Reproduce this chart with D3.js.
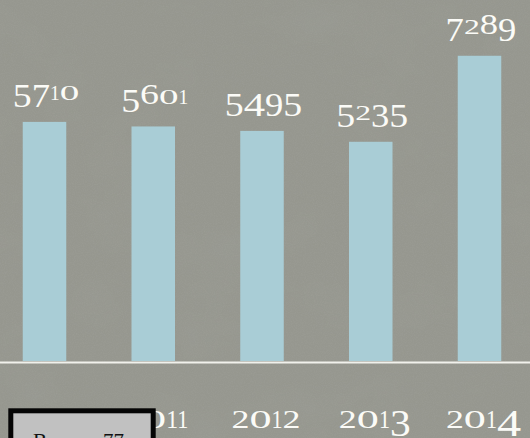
<!DOCTYPE html>
<html>
<head>
<meta charset="utf-8">
<script src="https://cdn.jsdelivr.net/npm/d3@7"></script>
<style>
  html, body { margin: 0; padding: 0; background: #94958d; overflow: hidden; }
  svg { display: block; }
  .num { font-family: "Liberation Serif", "Times New Roman", serif; fill: #fbfbf7; }
</style>
</head>
<body>
<script>
// Yearly totals
const years = ["2010", "2011", "2012", "2013", "2014"];
const counts = [5710, 5601, 5495, 5235, 7289];
// Caption of the info box at the lower left
const boxLabel = "Bar";
const boxValue = "77";

const W = 530, H = 438;

const svg = d3.select("body").append("svg")
  .attr("width", W).attr("height", H);

// Stone-like backdrop: flat grey plus soft mottling and fine grain
const defs = svg.append("defs");
const mottle = defs.append("filter").attr("id", "mottle")
  .attr("x", 0).attr("y", 0).attr("width", "100%").attr("height", "100%");
mottle.append("feTurbulence").attr("type", "fractalNoise")
  .attr("baseFrequency", "0.012 0.018").attr("numOctaves", 4).attr("seed", 7);
mottle.append("feColorMatrix").attr("type", "matrix")
  .attr("values", "0 0 0 0 0.33  0 0 0 0 0.34  0 0 0 0 0.31  0 0 0 -1.3 0.72");
const grain = defs.append("filter").attr("id", "grain")
  .attr("x", 0).attr("y", 0).attr("width", "100%").attr("height", "100%");
grain.append("feTurbulence").attr("type", "fractalNoise")
  .attr("baseFrequency", "0.9").attr("numOctaves", 2).attr("seed", 3);
grain.append("feColorMatrix").attr("type", "matrix")
  .attr("values", "0 0 0 0 0.5  0 0 0 0 0.5  0 0 0 0 0.48  0 0 0 -0.6 0.38");

svg.append("rect").attr("width", W).attr("height", H).attr("fill", "#96978f");
svg.append("rect").attr("width", W).attr("height", H).attr("filter", "url(#mottle)").attr("opacity", 0.55);
svg.append("rect").attr("width", W).attr("height", H).attr("filter", "url(#grain)").attr("opacity", 0.35);

const x = d3.scaleBand().domain(years).range([1, 523])
  .paddingInner(0.6).paddingOuter(0.2);
const y = d3.scaleLinear().domain([0, 8000]).range([361, 26]);

// Old-style figures: 0 1 2 sit at x-height, 6 8 rise a little,
// the others hang below the baseline. Advance widths in em of the label size.
const figureWidth = { "0": 0.64, "1": 0.32, "2": 0.52, "3": 0.6, "4": 0.7,
                      "5": 0.62, "6": 0.62, "7": 0.6, "8": 0.6, "9": 0.6 };
function oldstyle(text, str, S) {
  let prev = 0;
  for (const ch of str) {
    let size, shift;
    if ("012".includes(ch)) { size = S * 0.7; shift = 0; }
    else if ("68".includes(ch)) { size = S * 0.95; shift = 0; }
    else { size = S * 1.08; shift = S * 0.24; }
    text.append("tspan")
      .attr("font-size", size)
      .attr("dy", shift - prev)
      .attr("textLength", figureWidth[ch] * S)
      .attr("lengthAdjust", "spacingAndGlyphs")
      .text(ch);
    prev = shift;
  }
}

// Bars
svg.append("g").selectAll("rect")
  .data(years)
  .join("rect")
  .attr("x", d => x(d))
  .attr("y", (d, i) => y(counts[i]))
  .attr("width", x.bandwidth())
  .attr("height", (d, i) => y(0) - y(counts[i]))
  .attr("fill", "#a9cdd6");

// Baseline
svg.append("line")
  .attr("x1", 0).attr("x2", W)
  .attr("y1", y(0) + 1.5).attr("y2", y(0) + 1.5)
  .attr("stroke", "#f1f1ec").attr("stroke-width", 2);

// Value labels above the bars
years.forEach((yr, i) => {
  const t = svg.append("text").attr("class", "num")
    .attr("x", x(yr) + x.bandwidth() / 2 + 1.5)
    .attr("y", y(counts[i]) - 22)
    .attr("text-anchor", "middle");
  oldstyle(t, String(counts[i]), 30.5);
});

// Year labels under the baseline
years.forEach(yr => {
  const t = svg.append("text").attr("class", "num")
    .attr("x", x(yr) + x.bandwidth() / 2 + 4)
    .attr("y", 427.5)
    .attr("text-anchor", "middle");
  oldstyle(t, yr, 34.5);
});

// Info box in the lower left corner
const box = svg.append("g");
box.append("rect")
  .attr("x", 10.8).attr("y", 410.8)
  .attr("width", 142.4).attr("height", 60)
  .attr("fill", "#c1c1c1")
  .attr("stroke", "#050505").attr("stroke-width", 5);
box.append("text")
  .attr("x", 33).attr("y", 447.5)
  .attr("font-family", "Liberation Serif, serif")
  .attr("font-size", 21)
  .attr("fill", "#111")
  .text(boxLabel);
box.append("text")
  .attr("x", 103).attr("y", 447.5)
  .attr("font-family", "Liberation Serif, serif")
  .attr("font-size", 21)
  .attr("fill", "#111")
  .text(boxValue);
</script>
</body>
</html>
